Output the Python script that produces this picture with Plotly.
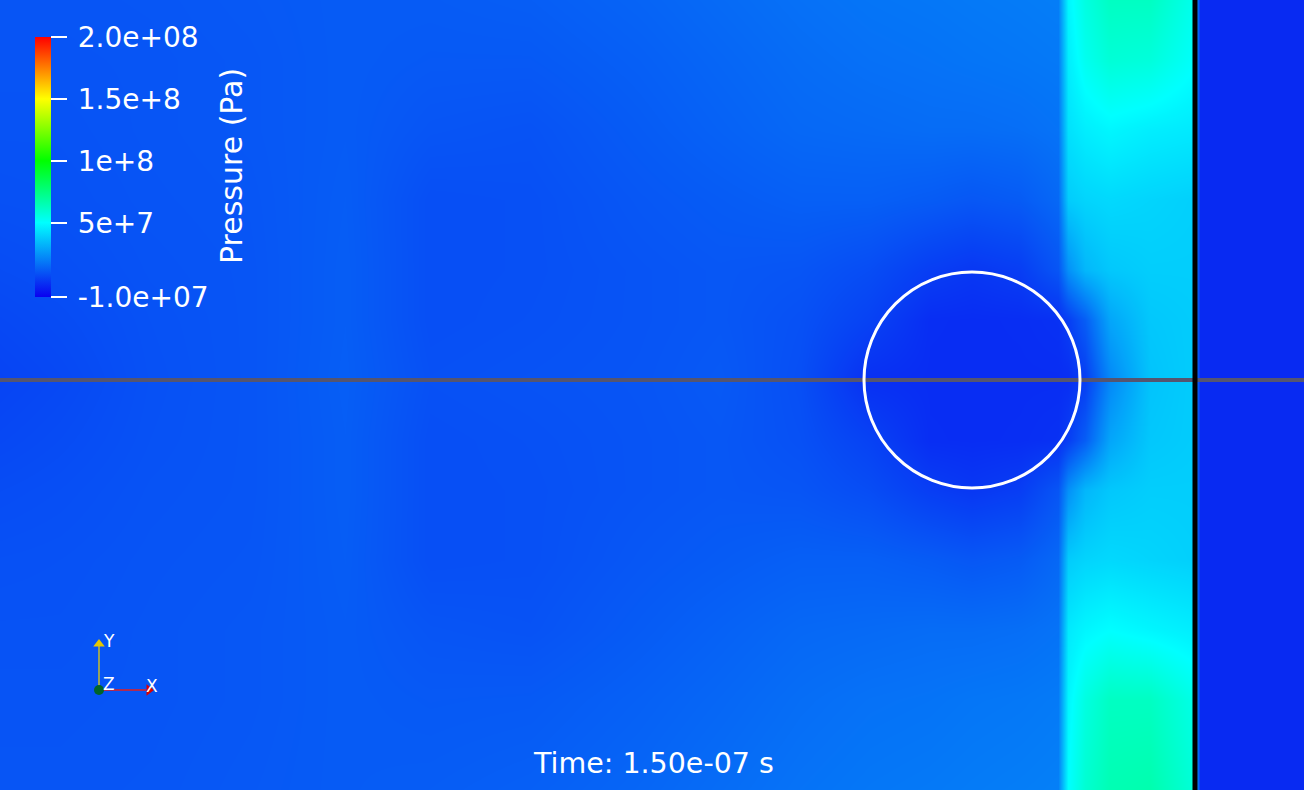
import numpy as np
import plotly.graph_objects as go

# ---------------- data ----------------
# grid positions of the sampled pressure field (domain units, x to the right, y downward)
grid_x = [0, 60, 150, 250, 345, 430, 530, 640, 720, 800, 870, 930, 972, 1020,
          1058, 1068, 1085, 1110, 1150, 1192, 1200, 1304]
grid_y = [0, 60, 130, 200, 270, 320, 380, 440, 490, 560, 630, 700, 790]

# pressure samples, in units of 1e7 Pa (one list per grid row)
p_y0   = [1.00, 1.00, 1.02, 1.08, 1.15, 1.15, 1.20, 1.35, 1.50, 1.65, 1.75, 1.80, 1.85, 1.90, 1.95, 4.80, 5.60, 6.20, 6.20, 5.40, 0.00, 0.00]
p_y60  = [0.98, 0.98, 1.00, 1.05, 1.15, 1.10, 1.10, 1.25, 1.40, 1.55, 1.65, 1.70, 1.75, 1.80, 1.85, 4.60, 5.30, 5.80, 5.70, 5.10, 0.00, 0.00]
p_y130 = [0.95, 0.95, 1.00, 1.05, 1.15, 1.00, 0.95, 1.15, 1.30, 1.45, 1.50, 1.55, 1.55, 1.60, 1.70, 4.30, 4.60, 4.80, 4.60, 4.50, 0.00, 0.00]
p_y200 = [0.90, 0.92, 0.98, 1.02, 1.18, 0.85, 0.88, 1.05, 1.15, 1.25, 1.25, 1.15, 1.05, 1.15, 1.45, 3.80, 4.00, 4.10, 4.00, 3.90, 0.00, 0.00]
p_y270 = [0.80, 0.85, 0.95, 1.00, 1.20, 0.85, 0.88, 0.98, 1.05, 1.00, 0.80, 0.45, 0.30, 0.45, 1.00, 2.40, 3.30, 3.70, 3.85, 3.85, 0.00, 0.00]
p_y320 = [0.70, 0.78, 0.92, 1.00, 1.20, 0.85, 0.90, 0.98, 1.05, 0.90, 0.55, 0.08, 0.06, 0.08, 0.15, 0.45, 1.20, 2.90, 3.70, 3.80, 0.00, 0.00]
p_y380 = [0.60, 0.70, 0.90, 1.00, 1.22, 0.90, 0.95, 1.00, 1.10, 0.85, 0.12, 0.06, 0.06, 0.06, 0.06, 0.08, 0.45, 2.20, 3.60, 3.80, 0.00, 0.00]
p_y440 = [0.70, 0.78, 0.92, 1.00, 1.20, 0.85, 0.90, 0.98, 1.05, 0.90, 0.55, 0.08, 0.06, 0.08, 0.15, 0.45, 1.20, 2.90, 3.70, 3.80, 0.00, 0.00]
p_y490 = [0.80, 0.85, 0.95, 1.00, 1.20, 0.85, 0.88, 0.98, 1.05, 1.00, 0.80, 0.45, 0.30, 0.45, 1.00, 2.40, 3.30, 3.70, 3.85, 3.85, 0.00, 0.00]
p_y560 = [0.90, 0.92, 0.98, 1.02, 1.18, 0.85, 0.88, 1.05, 1.15, 1.25, 1.25, 1.15, 1.05, 1.15, 1.45, 3.80, 4.00, 4.10, 4.00, 3.90, 0.00, 0.00]
p_y630 = [0.95, 0.95, 1.00, 1.05, 1.15, 1.00, 0.95, 1.15, 1.30, 1.45, 1.50, 1.55, 1.55, 1.60, 1.70, 4.50, 4.80, 5.00, 4.80, 4.60, 0.00, 0.00]
p_y700 = [0.98, 0.98, 1.00, 1.05, 1.15, 1.10, 1.12, 1.28, 1.42, 1.58, 1.68, 1.72, 1.78, 1.82, 1.88, 4.80, 5.60, 6.20, 6.20, 5.50, 0.00, 0.00]
p_y790 = [1.00, 1.00, 1.02, 1.08, 1.15, 1.18, 1.25, 1.40, 1.55, 1.70, 1.80, 1.85, 1.90, 1.95, 2.00, 5.00, 5.90, 6.50, 6.60, 5.80, 0.00, 0.00]

# colour bar ticks
cbar_tickvals = [-1e7, 5e7, 1e8, 1.5e8, 2e8]
cbar_ticktext = ["-1.0e+07", "5e+7", "1e+8", "1.5e+8", "2.0e+08"]
cbar_title = "Pressure (Pa)"
p_min, p_max = -1e7, 2e8

# bubble (white circle) and interface lines
bubble_cx, bubble_cy, bubble_r = 972, 380, 108
axis_line_y = 380
wall_x = 1195

time_label = "Time: 1.50e-07 s"

# ---------------- figure ----------------
rows = [p_y0, p_y60, p_y130, p_y200, p_y270, p_y320, p_y380,
        p_y440, p_y490, p_y560, p_y630, p_y700, p_y790]
z = np.array(rows) * 1e7

colorscale = [
    [0.000, "rgb(10,0,240)"],
    [0.286, "rgb(0,255,255)"],
    [0.405, "rgb(0,255,128)"],
    [0.524, "rgb(0,255,0)"],
    [0.643, "rgb(128,255,0)"],
    [0.762, "rgb(255,255,0)"],
    [0.880, "rgb(255,128,0)"],
    [1.000, "rgb(255,0,0)"],
]

FONT = "DejaVu Sans"
W, H = 1304, 790

fig = go.Figure()
fig.add_trace(go.Heatmap(
    x=grid_x, y=grid_y, z=z,
    zmin=p_min, zmax=p_max, zsmooth="best",
    colorscale=colorscale, hoverinfo="skip",
    colorbar=dict(
        x=35 / W, xanchor="left", y=1 - 167 / H, yanchor="middle",
        len=260, lenmode="pixels", thickness=16, thicknessmode="pixels",
        xpad=0, ypad=0, outlinewidth=0,
        tickvals=cbar_tickvals, ticktext=["\u2009" + t for t in cbar_ticktext],
        ticks="outside", ticklen=16, tickwidth=1.5, tickcolor="white",
        tickfont=dict(family=FONT, size=28, color="white"),
    ),
))

# orientation triad (decoration)
triad_ox, triad_oy = 99, 690
fig.add_trace(go.Scatter(x=[triad_ox, triad_ox], y=[triad_oy, 646], mode="lines",
                         line=dict(color="rgb(200,190,40)", width=1.5),
                         hoverinfo="skip", showlegend=False))
fig.add_trace(go.Scatter(x=[triad_ox, 146], y=[triad_oy, triad_oy], mode="lines",
                         line=dict(color="rgb(230,30,30)", width=1.5),
                         hoverinfo="skip", showlegend=False))
fig.add_trace(go.Scatter(x=[triad_ox], y=[644], mode="markers",
                         marker=dict(symbol="triangle-up", size=10, color="rgb(230,200,0)"),
                         hoverinfo="skip", showlegend=False))
fig.add_trace(go.Scatter(x=[149], y=[triad_oy], mode="markers",
                         marker=dict(symbol="triangle-right", size=10, color="rgb(220,0,0)"),
                         hoverinfo="skip", showlegend=False))
fig.add_trace(go.Scatter(x=[triad_ox], y=[triad_oy], mode="markers",
                         marker=dict(symbol="circle", size=10, color="rgb(0,100,40)"),
                         hoverinfo="skip", showlegend=False))

shapes = [
    dict(type="line", xref="x", yref="y", x0=0, x1=W, y0=axis_line_y, y1=axis_line_y,
         line=dict(color="rgb(85,85,112)", width=4), layer="above"),
    dict(type="circle", xref="x", yref="y",
         x0=bubble_cx - bubble_r, x1=bubble_cx + bubble_r,
         y0=bubble_cy - bubble_r, y1=bubble_cy + bubble_r,
         line=dict(color="white", width=3), layer="above"),
    dict(type="line", xref="x", yref="y", x0=wall_x, x1=wall_x, y0=0, y1=H,
         line=dict(color="black", width=5), layer="above"),
]

annotations = [
    dict(x=231, y=166, xref="x", yref="y", text=cbar_title, showarrow=False, textangle=-90,
         font=dict(family=FONT, size=30, color="white"), xanchor="center", yanchor="middle"),
    dict(x=653, y=763, xref="x", yref="y", text=time_label, showarrow=False,
         font=dict(family=FONT, size=28.5, color="white"), xanchor="center", yanchor="middle"),
    dict(x=101, y=641, xref="x", yref="y", text="Y", showarrow=False,
         font=dict(family=FONT, size=17, color="white"), xanchor="left", yanchor="middle"),
    dict(x=101, y=684, xref="x", yref="y", text="Z", showarrow=False,
         font=dict(family=FONT, size=17, color="white"), xanchor="left", yanchor="middle"),
    dict(x=144, y=686, xref="x", yref="y", text="X", showarrow=False,
         font=dict(family=FONT, size=17, color="white"), xanchor="left", yanchor="middle"),
]

fig.update_layout(
    width=W, height=H, margin=dict(l=0, r=0, t=0, b=0),
    paper_bgcolor="rgb(0,85,235)", plot_bgcolor="rgb(0,85,235)",
    xaxis=dict(visible=False, range=[0, W], fixedrange=True),
    yaxis=dict(visible=False, range=[H, 0], fixedrange=True),
    shapes=shapes, annotations=annotations, showlegend=False,
)

fig.write_html("out.html", config={"displayModeBar": False})
